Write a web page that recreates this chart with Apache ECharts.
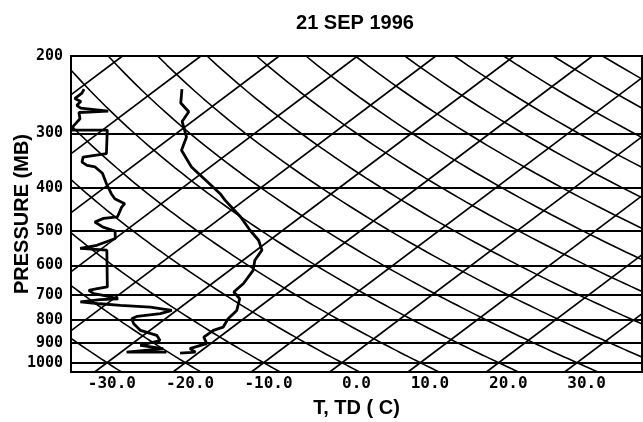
<!DOCTYPE html>
<html>
<head>
<meta charset="utf-8">
<script src="https://cdn.jsdelivr.net/npm/echarts@6/dist/echarts.min.js"></script>
<style>
  html, body { margin: 0; padding: 0; background: #fff; }
  #chart { width: 643px; height: 422px; }
</style>
</head>
<body>
<div id="chart"></div>
<script>
// Sounding of 21 Sep 1996 on a skew-T / log-p diagram.

// Temperature profile: pressure (hPa) and temperature (deg C)
const tempPres = [238, 256, 268, 282, 306, 328, 358, 390, 412, 426, 465, 499, 526, 554, 584, 616,
                  660, 690, 715, 760, 794, 830, 844, 874, 905, 913, 929, 946, 951];
const tempC    = [-66.8, -64.6, -62.1, -61.3, -58.1, -56.5, -52.4, -47.4, -44.2, -42.5, -37.7, -34.2, -31.4, -29.3, -28.5, -27.0,
                  -26.0, -25.8, -23.9, -22.3, -22.0, -21.2, -21.9, -22.0, -20.5, -21.0, -21.8, -20.5, -22.3];

// Dew point profile: pressure (hPa) and dew point (deg C)
const dewPres = [238, 243, 250, 254, 259, 263, 267, 269, 278, 289, 291, 295, 295, 334, 340, 349, 355, 358, 370,
                 391, 412, 423, 434, 442, 465, 469, 478, 491, 501, 521, 540, 549, 554, 672, 678, 684, 696, 702,
                 715, 718, 727, 734, 740, 747, 760, 773, 784, 794, 815, 844, 866, 890, 913, 929, 946, 946];
const dewC    = [-79.3, -78.9, -78.9, -77.6, -77.5, -76.5, -72.5, -76.0, -74.8, -74.4, -74.4, -73.9, -69.4, -65.5, -67.9, -67.2, -66.0, -64.7, -62.7,
                 -60.4, -58.1, -56.8, -54.7, -54.5, -53.4, -54.9, -55.4, -53.5, -51.3, -50.0, -51.2, -52.8, -49.1, -42.8, -43.8, -44.6, -43.4, -41.9,
                 -39.4, -41.6, -43.7, -40.9, -38.0, -33.9, -30.6, -31.5, -34.0, -34.3, -33.2, -31.2, -28.3, -27.0, -28.7, -25.2, -29.3, -24.2];

// Axis labels
const pressureLevels = [200, 300, 400, 500, 600, 700, 800, 900, 1000];
const tempTicks = [-30, -20, -10, 0, 10, 20, 30];

// Background guide lines: isotherms and dry adiabats (deg C)
const isotherms = [-120, -110, -100, -90, -80, -70, -60, -50, -40, -30, -20, -10, 0, 10, 20, 30, 40];
const adiabats  = [-40, -30, -20, -10, 0, 10, 20, 30, 40, 50, 60, 70, 80, 90, 100, 110, 120, 130, 140, 150];

// Diagram geometry
const SKEW = 32.3;          // horizontal shift in deg C per unit of ln(p)
const P_TOP = 200, P_BOT = 1050;
const X_MIN = -34.6, X_MAX = 38.3;
const KAPPA = 0.286;

function skewX(t, p) { return t + SKEW * Math.log(1000 / p); }

function profile(pres, vals) {
  return pres.map((p, i) => [skewX(vals[i], p), p]);
}

const guideSeries = [];
isotherms.forEach(t => {
  guideSeries.push({
    type: 'line', silent: true, symbol: 'none', clip: true, z: 2,
    lineStyle: { color: '#000', width: 1.6 },
    data: [[skewX(t, P_BOT), P_BOT], [skewX(t, P_TOP), P_TOP]]
  });
});
adiabats.forEach(th => {
  const pts = [];
  for (let p = P_BOT; p >= P_TOP; p -= 10) {
    const t = (th + 273.15) * Math.pow(p / 1000, KAPPA) - 273.15;
    pts.push([skewX(t, p), p]);
  }
  guideSeries.push({
    type: 'line', silent: true, symbol: 'none', clip: true, z: 2,
    lineStyle: { color: '#000', width: 1.6 },
    data: pts
  });
});

const chart = echarts.init(document.getElementById('chart'), null, { renderer: 'canvas' });

chart.setOption({
  animation: false,
  backgroundColor: '#fff',
  title: {
    text: '21 SEP 1996',
    left: 350, top: 8, textAlign: 'center',
    textStyle: { fontFamily: 'Liberation Sans', fontWeight: 'bold', fontSize: 20, color: '#000' }
  },
  grid: {
    left: 71, right: 1, top: 56, bottom: 50,
    containLabel: false, outerBoundsMode: 'none',
    show: true, borderColor: '#000', borderWidth: 2, backgroundColor: '#fff'
  },
  xAxis: {
    type: 'value', min: X_MIN, max: X_MAX,
    name: 'T, TD ( C)', nameLocation: 'middle', nameGap: 26,
    nameTextStyle: { fontFamily: 'Liberation Sans', fontWeight: 'bold', fontSize: 20, color: '#000' },
    axisLine: { show: true, onZero: false, lineStyle: { color: '#000', width: 2 } },
    axisTick: { show: false },
    splitLine: { show: false },
    axisLabel: {
      customValues: tempTicks,
      margin: 4,
      fontFamily: 'DejaVu Sans Mono', fontWeight: 'bold', fontSize: 16, color: '#000',
      formatter: v => v.toFixed(1).padStart(6, '\u00a0')
    }
  },
  yAxis: {
    type: 'log', logBase: 10, min: P_TOP, max: P_BOT, inverse: true,
    name: 'PRESSURE (MB)', nameLocation: 'middle', nameGap: 39, nameRotate: 90,
    nameMoveOverlap: false,
    nameTextStyle: { fontFamily: 'Liberation Sans', fontWeight: 'bold', fontSize: 20, color: '#000' },
    axisLine: { show: true, onZero: false, lineStyle: { color: '#000', width: 2 } },
    axisTick: { show: false },
    splitLine: { show: false },
    minorSplitLine: { show: false },
    axisLabel: {
      customValues: pressureLevels,
      margin: 8,
      fontFamily: 'DejaVu Sans Mono', fontWeight: 'bold', fontSize: 15, color: '#000',
      formatter: v => String(Math.round(v))
    }
  },
  series: [
    {
      type: 'line', silent: true, symbol: 'none', data: [], z: 3,
      markLine: {
        silent: true, symbol: ['none', 'none'],
        label: { show: false },
        lineStyle: { color: '#000', width: 2, type: 'solid' },
        data: pressureLevels.map(p => ({ yAxis: p }))
      }
    },
    ...guideSeries,
    {
      name: 'T', type: 'line', symbol: 'none', clip: true, z: 5,
      lineStyle: { color: '#000', width: 2.8 },
      data: profile(tempPres, tempC)
    },
    {
      name: 'TD', type: 'line', symbol: 'none', clip: true, z: 5,
      lineStyle: { color: '#000', width: 2.8 },
      data: profile(dewPres, dewC)
    }
  ]
});
</script>
</body>
</html>
